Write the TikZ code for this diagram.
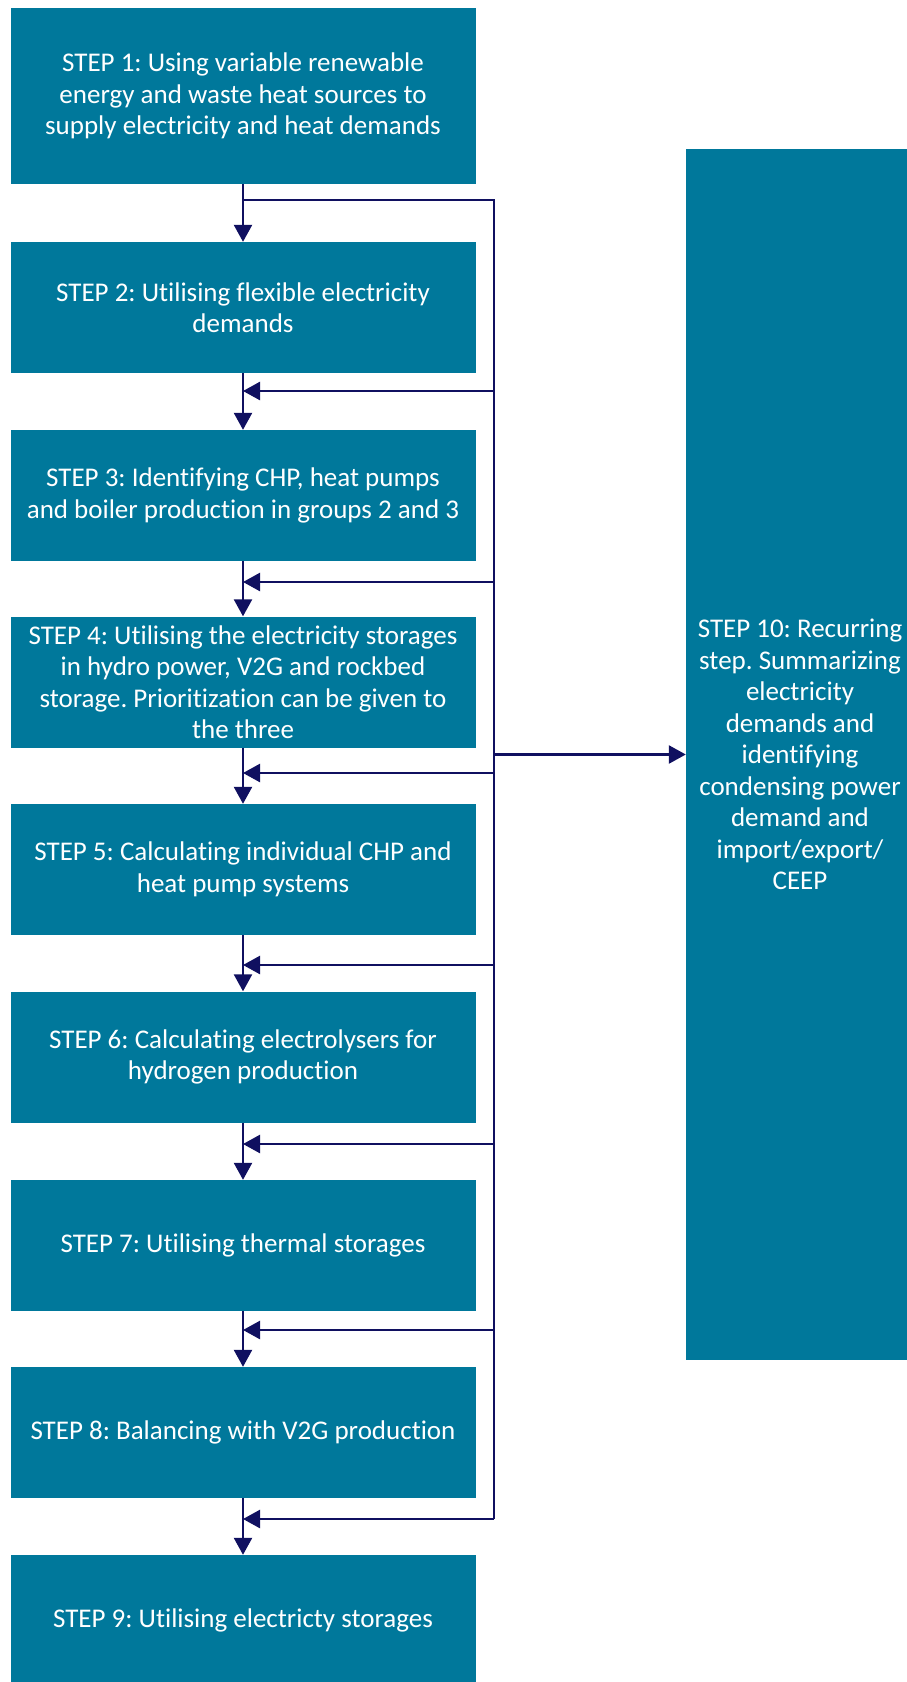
\documentclass[tikz,border=0pt]{standalone}
\usepackage{fontspec}
\setmainfont{Carlito}[Ligatures=NoCommon]
\usetikzlibrary{arrows.meta}
\definecolor{boxteal}{RGB}{0,120,155}
\definecolor{navyline}{RGB}{16,16,96}
\frenchspacing
\begin{document}
\begin{tikzpicture}[x=1pt,y=-1pt,
  stepbox/.style={rectangle, fill=boxteal, text=white, minimum width=465pt,
    minimum height=131pt, inner sep=0pt, align=center,
    font=\fontsize{27}{31.5}\selectfont},
  conn/.style={draw=navyline, line width=2.5pt, -{Triangle[width=18pt,length=17pt]}},
  plainline/.style={draw=navyline, line width=2.5pt}]
\clip (0,0) rectangle (907,1682);
\fill[white] (0,0) rectangle (907,1682);

\node[stepbox, minimum height=176pt] (s1) at (243,96)
  {STEP 1: Using variable renewable\\energy and waste heat sources to\\supply electricity and heat demands};
\node[stepbox] (s2) at (243,307.5) {STEP 2: Utilising flexible electricity\\demands};
\node[stepbox] (s3) at (243,495.5) {STEP 3: Identifying CHP, heat pumps\\and boiler production in groups 2 and 3};
\node[stepbox] (s4) at (243,682) {STEP 4: Utilising the electricity storages\\in hydro power, V2G and rockbed\\storage. Prioritization can be given to\\the three};
\node[stepbox] (s5) at (243,869.5) {STEP 5: Calculating individual CHP and\\heat pump systems};
\node[stepbox] (s6) at (243,1057) {STEP 6: Calculating electrolysers for\\hydrogen production};
\node[stepbox] (s7) at (243,1245.5) {STEP 7: Utilising thermal storages};
\node[stepbox] (s8) at (243,1432.5) {STEP 8: Balancing with V2G production};
\node[stepbox] (s9) at (243,1620.5) {STEP 9: Utilising electricty storages};
\node[stepbox, minimum width=228pt, minimum height=1211pt] (s10) at (800,754.5)
  {STEP 10: Recurring\\step. Summarizing\\electricity\\demands and\\identifying\\condensing power\\demand and\\import/export/\\CEEP};

% main vertical flow
\draw[conn] (s1.south) -- (s2.north);
\draw[conn] (s2.south) -- (s3.north);
\draw[conn] (s3.south) -- (s4.north);
\draw[conn] (s4.south) -- (s5.north);
\draw[conn] (s5.south) -- (s6.north);
\draw[conn] (s6.south) -- (s7.north);
\draw[conn] (s7.south) -- (s8.north);
\draw[conn] (s8.south) -- (s9.north);

% recurring bus
\coordinate (j0) at (243,200);
\coordinate (bt) at (494,200);
\coordinate (bb) at (494,1519);
\draw[plainline] (j0) -- (bt) -- (bb);

\foreach \n/\yy in {a/391, b/582, c/773, d/965, e/1144, f/1330, g/1519} {
  \coordinate (bus\n) at (494,\yy);
  \coordinate (mid\n) at (243,\yy);
  \draw[conn] (bus\n) -- (mid\n);
}

\coordinate (bus10) at (494,754.5);
\draw[conn] (bus10) -- (s10.west);
\end{tikzpicture}
\end{document}
